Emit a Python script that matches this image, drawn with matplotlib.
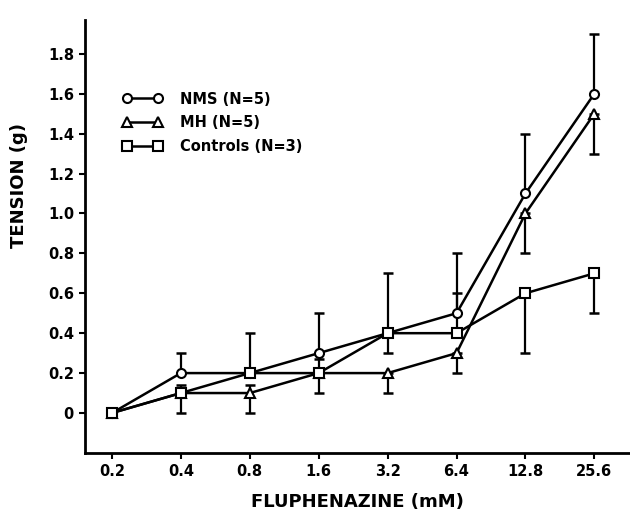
import numpy as np
import matplotlib
matplotlib.use('Agg')
import matplotlib.pyplot as plt

dose = [0.2, 0.4, 0.8, 1.6, 3.2, 6.4, 12.8, 25.6]
dose_labels = ['0.2', '0.4', '0.8', '1.6', '3.2', '6.4', '12.8', '25.6']

nms = [0.0, 0.2, 0.2, 0.3, 0.4, 0.5, 1.1, 1.6]
nms_err_lo = [0, 0, 0, 0, 0, 0, 0, 0]
nms_err_hi = [0, 0.1, 0.2, 0.2, 0.3, 0.3, 0.3, 0.3]

mh = [0.0, 0.1, 0.1, 0.2, 0.2, 0.3, 1.0, 1.5]
mh_err_lo = [0, 0.1, 0.1, 0.1, 0.1, 0.1, 0.2, 0.2]
mh_err_hi = [0, 0.04, 0.04, 0.07, 0, 0, 0, 0]

controls = [0.0, 0.1, 0.2, 0.2, 0.4, 0.4, 0.6, 0.7]
ctrl_err_lo = [0, 0, 0, 0, 0.1, 0, 0.3, 0.2]
ctrl_err_hi = [0, 0, 0, 0, 0, 0.2, 0, 0]

yticks = [0, 0.2, 0.4, 0.6, 0.8, 1.0, 1.2, 1.4, 1.6, 1.8]
ytick_labels = ['0', '0.2', '0.4', '0.6', '0.8', '1.0', '1.2', '1.4', '1.6', '1.8']

plt.rcParams['font.family'] = 'DejaVu Sans'
plt.rcParams['font.weight'] = 'bold'

fig = plt.figure(figsize=(6.3, 5.23), dpi=100)
ax = fig.add_axes([0.135, 0.134, 0.864, 0.828])

series = [
    ('NMS (N=5)', nms, nms_err_lo, nms_err_hi, 'o'),
    ('MH (N=5)', mh, mh_err_lo, mh_err_hi, '^'),
    ('Controls (N=3)', controls, ctrl_err_lo, ctrl_err_hi, 's'),
]

for label, y, lo, hi, m in series:
    ax.errorbar(dose, y, yerr=[lo, hi], fmt='none', ecolor='black',
                elinewidth=1.6, capsize=3.5, capthick=1.8, zorder=2)
    ax.plot(dose, y, color='black', lw=1.8, marker=m, markersize=6.5,
            markerfacecolor='white', markeredgecolor='black', markeredgewidth=1.5,
            label=label, zorder=3)

ax.set_xscale('log', base=2)
ax.set_xlim(0.1526, 36.4)
ax.set_ylim(-0.2, 1.97)
ax.set_xticks(dose)
ax.set_xticklabels(dose_labels)
ax.minorticks_off()
ax.set_yticks(yticks)
ax.set_yticklabels(ytick_labels)

ax.spines['top'].set_visible(False)
ax.spines['right'].set_visible(False)
ax.spines['left'].set_linewidth(2)
ax.spines['bottom'].set_linewidth(2)
ax.tick_params(axis='both', direction='out', length=4, width=1.5, labelsize=10.5, pad=4)

ax.set_xlabel('FLUPHENAZINE (mM)', fontsize=13, fontweight='bold', labelpad=10)
ax.set_ylabel('TENSION (g)', fontsize=13, fontweight='bold')
ax.yaxis.set_label_coords(-0.104, 0.617)

ax.legend(loc='upper left', bbox_to_anchor=(0.058, 0.848), frameon=False,
          numpoints=2, handlelength=2.73, fontsize=10.5, labelspacing=0.59,
          handletextpad=1.2, borderaxespad=0)

fig.savefig('out.png', dpi=100)
